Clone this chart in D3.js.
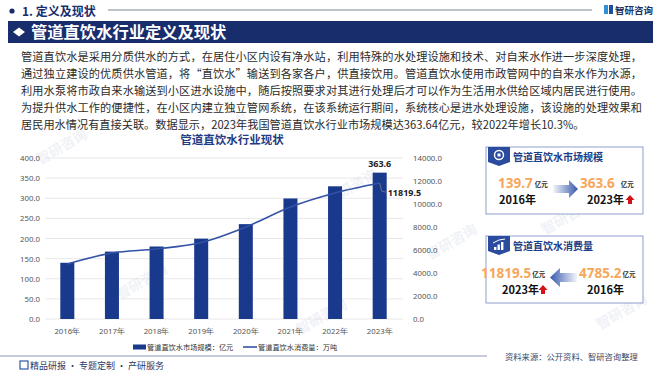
<!DOCTYPE html>
<html>
<head>
<meta charset="utf-8">
<script src="https://cdn.jsdelivr.net/npm/d3@7"></script>
<style>
  body { margin: 0; background: #fff; }
  svg { display: block; font-family: "Noto Sans CJK SC", "Noto Sans", sans-serif; }
</style>
</head>
<body>
<div id="chart"></div>
<script>
// chart data
const years = ['2016年', '2017年', '2018年', '2019年', '2020年', '2021年', '2022年', '2023年'];
const marketSize = [139.7, 167.4, 180.1, 199.6, 235.7, 299.5, 329.7, 363.6];   // 亿元
const consumption = [4785.2, 5740, 6090, 6650, 8000, 9740, 10960, 11819.5];   // 万吨
const leftTicks = [0, 50, 100, 150, 200, 250, 300, 350, 400];
const rightTicks = [0, 2000, 4000, 6000, 8000, 10000, 12000, 14000];
const legendNames = ['管道直饮水市场规模：亿元', '管道直饮水消费量：万吨'];

const paragraph = [
  '管道直饮水是采用分质供水的方式，在居住小区内设有净水站，利用特殊的水处理设施和技术、对自来水作进一步深度处理，',
  '通过独立建设的优质供水管道，将“直饮水”输送到各家各户，供直接饮用。管道直饮水使用市政管网中的自来水作为水源，',
  '利用水泵将市政自来水输送到小区进水设施中，随后按照要求对其进行处理后才可以作为生活用水供给区域内居民进行使用。',
  '为提升供水工作的便捷性，在小区内建立独立管网系统，在该系统运行期间，系统核心是进水处理设施，该设施的处理效果和',
  '居民用水情况有直接关联。数据显示，2023年我国管道直饮水行业市场规模达363.64亿元，较2022年增长10.3%。'
];

const navy = '#182d6c';
const barColor = '#18398c';
const lineColor = '#3352a6';
const orange = '#f6a75c';

const svg = d3.select('#chart').append('svg')
  .attr('width', 660).attr('height', 372);

const defs = svg.append('defs');
const gradR = defs.append('linearGradient').attr('id', 'arrowR');
gradR.append('stop').attr('offset', '0%').attr('stop-color', '#f2f5fb');
gradR.append('stop').attr('offset', '100%').attr('stop-color', '#3759ad');
const gradL = defs.append('linearGradient').attr('id', 'arrowL');
gradL.append('stop').attr('offset', '0%').attr('stop-color', '#3759ad');
gradL.append('stop').attr('offset', '100%').attr('stop-color', '#f2f5fb');

// faint watermarks
[[40, 165], [200, 150], [330, 205], [120, 300], [300, 335], [545, 235], [600, 330], [430, 260]].forEach(p => {
  svg.append('text')
    .attr('transform', `translate(${p[0]},${p[1]}) rotate(-30)`)
    .attr('font-size', 14).attr('font-weight', 'bold')
    .attr('fill', '#f0f2f7')
    .text('智研咨询');
});

// header
svg.append('circle').attr('cx', 12).attr('cy', 11).attr('r', 2.6).attr('fill', navy);
svg.append('text').attr('x', 22).attr('y', 15.5)
  .attr('font-size', 12).attr('font-weight', 'bold').attr('fill', navy)
  .text('1. 定义及现状');
svg.append('line').attr('x1', 108).attr('x2', 592).attr('y1', 10).attr('y2', 10)
  .attr('stroke', '#a8aebb').attr('stroke-width', 1.5);
// logo
svg.append('rect').attr('x', 604).attr('y', 5).attr('width', 4).attr('height', 9).attr('fill', '#2f8fd8');
svg.append('rect').attr('x', 609).attr('y', 5).attr('width', 4).attr('height', 9).attr('fill', '#1d4f9c');
svg.append('text').attr('x', 615).attr('y', 13.5)
  .attr('font-size', 9.5).attr('font-weight', 'bold').attr('fill', '#1d3260')
  .text('智研咨询');

// title banner
svg.append('rect').attr('x', 8).attr('y', 21).attr('width', 645).attr('height', 22).attr('fill', navy);
svg.append('path').attr('d', 'M13,32 L19,27.5 L25,32 L19,36.5 Z').attr('fill', '#fff');
svg.append('text').attr('x', 31).attr('y', 38)
  .attr('font-size', 16.3).attr('font-weight', 'bold').attr('fill', '#fff')
  .text('管道直饮水行业定义及现状');

// paragraph
svg.append('g').selectAll('text')
  .data(paragraph)
  .enter()
  .append('text')
  .attr('x', 21)
  .attr('y', (d, i) => 61 + i * 17)
  .attr('font-size', 11.2)
  .attr('fill', '#2b2b2b')
  .attr('textLength', (d, i) => i < 4 ? 621 : null)
  .attr('lengthAdjust', 'spacing')
  .text(d => d);

// ---------- chart ----------
const x = d3.scaleBand().domain(years).range([45, 402]).paddingInner(0.686).paddingOuter(0.343);
const yL = d3.scaleLinear().domain([0, 400]).range([319, 158]);
const yR = d3.scaleLinear().domain([0, 14000]).range([319, 158]);

svg.append('text').attr('x', 232).attr('y', 144)
  .attr('text-anchor', 'middle')
  .attr('font-size', 11.5).attr('font-weight', 'bold').attr('fill', '#1f3c84')
  .text('管道直饮水行业现状');

// grid
svg.append('g').selectAll('line')
  .data(leftTicks)
  .enter()
  .append('line')
  .attr('x1', 45).attr('x2', 403)
  .attr('y1', d => yL(d)).attr('y2', d => yL(d))
  .attr('stroke', '#e2e2e2').attr('stroke-width', 0.8);

const axisFont = g => {
  g.select('.domain').remove();
  g.selectAll('text').attr('font-size', 7.8).attr('fill', '#555')
    .attr('font-family', '"Noto Sans", sans-serif');
};
svg.append('g').attr('transform', 'translate(45,0)')
  .call(d3.axisLeft(yL).tickValues(leftTicks).tickSize(0).tickPadding(5).tickFormat(d3.format('.1f')))
  .call(axisFont);
svg.append('g').attr('transform', 'translate(403,0)')
  .call(d3.axisRight(yR).tickValues(rightTicks).tickSize(0).tickPadding(10).tickFormat(d3.format('.1f')))
  .call(axisFont);
svg.append('g').attr('transform', 'translate(0,319)')
  .call(d3.axisBottom(x).tickSize(0).tickPadding(9))
  .call(axisFont);

// bars
svg.append('g').selectAll('rect')
  .data(marketSize)
  .enter()
  .append('rect')
  .attr('x', (d, i) => x(years[i]))
  .attr('y', d => yL(d))
  .attr('width', x.bandwidth())
  .attr('height', d => yL(0) - yL(d))
  .attr('fill', barColor);

// line
const cx = i => x(years[i]) + x.bandwidth() / 2;
svg.append('path')
  .datum(consumption)
  .attr('d', d3.line().x((d, i) => cx(i)).y(d => yR(d)).curve(d3.curveMonotoneX))
  .attr('fill', 'none').attr('stroke', lineColor).attr('stroke-width', 1.6);

// labels for last values
const last = years.length - 1;
svg.append('text').attr('x', cx(last)).attr('y', yL(marketSize[last]) - 6)
  .attr('text-anchor', 'middle').attr('font-size', 9).attr('font-weight', 'bold').attr('fill', '#222')
  .attr('font-family', '"Noto Sans", sans-serif')
  .text(marketSize[last].toFixed(1));
svg.append('path')
  .attr('d', `M${cx(last)},${yR(consumption[last])} L${cx(last) + 2},${yR(consumption[last]) + 8} L${cx(last) + 6},${yR(consumption[last]) + 9}`)
  .attr('fill', 'none').attr('stroke', '#888').attr('stroke-width', 0.7);
svg.append('text').attr('x', cx(last) + 8).attr('y', yR(consumption[last]) + 13)
  .attr('font-size', 9).attr('font-weight', 'bold').attr('fill', '#222')
  .attr('font-family', '"Noto Sans", sans-serif')
  .text(consumption[last].toFixed(1));

// legend
const lg = svg.append('g').attr('font-size', 7.2).attr('fill', '#333');
lg.append('rect').attr('x', 133).attr('y', 344.5).attr('width', 13).attr('height', 5).attr('fill', barColor);
lg.append('text').attr('x', 147).attr('y', 350).text(legendNames[0]);
lg.append('line').attr('x1', 243).attr('x2', 257).attr('y1', 347).attr('y2', 347)
  .attr('stroke', lineColor).attr('stroke-width', 1.6);
lg.append('text').attr('x', 258).attr('y', 350).text(legendNames[1]);

// footer
svg.append('line').attr('x1', 0).attr('x2', 487).attr('y1', 356).attr('y2', 356)
  .attr('stroke', '#8c97b0').attr('stroke-width', 1);
svg.append('text').attr('x', 505).attr('y', 359.5)
  .attr('font-size', 8.3).attr('fill', '#3a4868')
  .text('资料来源：公开资料、智研咨询整理');
svg.append('rect').attr('x', 20).attr('y', 361).attr('width', 8).attr('height', 8)
  .attr('fill', 'none').attr('stroke', '#2c5aa8').attr('stroke-width', 1.2);
svg.append('text').attr('x', 30).attr('y', 368.5)
  .attr('font-size', 9).attr('fill', '#2a3a6a')
  .text('精品研报 · 专题定制 · 产研服务');

// ---------- side panels ----------
function panel(y0, title, iconType) {
  svg.append('rect').attr('x', 486).attr('y', y0).attr('width', 157).attr('height', 67)
    .attr('fill', '#fff').attr('stroke', '#8d9fcc').attr('stroke-width', 1);
  svg.append('path')
    .attr('d', `M488,${y0} H510 V${y0 + 15} L499,${y0 + 19} L488,${y0 + 15} Z`)
    .attr('fill', '#2b4b9e');
  if (iconType === 'pie') {
    svg.append('circle').attr('cx', 499).attr('cy', y0 + 8).attr('r', 4.5)
      .attr('fill', 'none').attr('stroke', '#fff').attr('stroke-width', 1.4);
    svg.append('rect').attr('x', 497.5).attr('y', y0 + 6.5).attr('width', 3).attr('height', 3).attr('fill', '#fff');
  } else {
    [0, 1, 2].forEach(k => {
      svg.append('rect').attr('x', 494 + k * 3.5).attr('y', y0 + 11 - k * 2.5)
        .attr('width', 2.4).attr('height', 3 + k * 2.5).attr('fill', '#fff');
    });
    svg.append('path').attr('d', `M493,${y0 + 7} L499,${y0 + 4} L505,${y0 + 3}`)
      .attr('fill', 'none').attr('stroke', '#fff').attr('stroke-width', 1);
  }
  svg.append('text').attr('x', 513).attr('y', y0 + 14)
    .attr('font-size', 10).attr('font-weight', 'bold').attr('fill', '#203d86')
    .text(title);
}
function bigNum(xp, yp, val, unit, gap) {
  const t = svg.append('text').attr('x', xp).attr('y', yp)
    .attr('font-size', 13.5).attr('font-weight', 'bold').attr('fill', orange)
    .attr('font-family', '"Noto Sans", sans-serif')
    .text(val);
  const w = t.node().getComputedTextLength();
  svg.append('text').attr('x', xp + w + gap).attr('y', yp - 1)
    .attr('font-size', 6.5).attr('font-weight', 'bold').attr('fill', '#333')
    .text(unit);
}
function yearLabel(xp, yp, txt) {
  svg.append('text').attr('x', xp).attr('y', yp)
    .attr('font-size', 11).attr('font-weight', 'bold').attr('fill', '#111')
    .text(txt);
}
function upArrow(xp, yp) {
  svg.append('path')
    .attr('d', `M${xp},${yp - 5} L${xp + 4.5},${yp} H${xp + 2} V${yp + 4} H${xp - 2} V${yp} H${xp - 4.5} Z`)
    .attr('fill', '#d3121a');
}

panel(147, '管道直饮水市场规模', 'pie');
bigNum(498, 188, marketSize[0].toFixed(1), '亿元', 2);
yearLabel(499, 204, years[0]);
svg.append('path').attr('d', 'M553,185 H569 V180 L578,189 L569,198 V193 H553 Z').attr('fill', 'url(#arrowR)');
bigNum(580, 188, marketSize[last].toFixed(1), '亿元', 6);
yearLabel(587, 204, years[last]);
upArrow(630, 200);

panel(236, '管道直饮水消费量', 'bar');
bigNum(481, 278, consumption[last].toFixed(1), '亿元', 1);
yearLabel(502, 294, years[last]);
upArrow(543, 290);
svg.append('path').attr('d', 'M577,273 H560 V268 L550,277.5 L560,287 V282 H577 Z').attr('fill', 'url(#arrowL)');
bigNum(579, 278, consumption[0].toFixed(1), '亿元', 1);
yearLabel(587, 294, years[0]);
</script>
</body>
</html>
